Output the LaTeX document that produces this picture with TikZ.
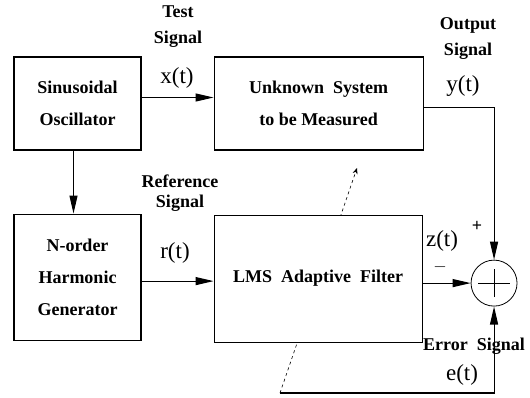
\documentclass[tikz,border=0pt]{standalone}
\usepackage{fontspec}
\setmainfont{Liberation Serif}
\usepackage{tikz}
\usetikzlibrary{arrows.meta,backgrounds,positioning}
\newcommand{\blockfont}{\fontsize{18}{32}\selectfont\bfseries}
\newcommand{\sigfont}{\fontsize{23}{23}\selectfont}

\begin{document}
\begin{tikzpicture}[
    x=1pt,y=-1pt,
    flow/.style={-{Triangle[length=18pt,width=8pt]},line width=1.1pt},
    block/.style={draw,line width=1.1pt,fill=white,align=center,
      font=\blockfont},
    tag/.style={font=\blockfont,align=center},
    sig/.style={font=\sigfont}
  ]
    \useasboundingbox (0,0) rectangle (530,397);

    % Signal source and the plant under test.
    \node[block,minimum width=127pt,minimum height=93pt] (osc) at (77.5,103.5)
      {Sinusoidal\\Oscillator};
    \node[block,minimum width=209pt,minimum height=93pt,right=72pt of osc] (plant)
      {Unknown\ \ System\\to\ be Measured};

    % Reference path and adaptive model.
    \node[block,minimum width=127pt,minimum height=126pt,below=63pt of osc] (harm)
      {N-order\\Harmonic\\Generator};
    \node[block,minimum width=208pt,minimum height=127pt,right=72pt of harm,
      yshift=-1.5pt] (lms)
      {LMS\ \ Adaptive\ \ Filter};
    \node[draw,circle,line width=0.8pt,minimum size=46pt,right=48pt of lms,
      yshift=-4.5pt] (sum) {};
    \draw[line width=0.8pt] ([xshift=-16pt]sum.center) -- ([xshift=16pt]sum.center);
    \draw[line width=0.8pt] ([yshift=-14pt]sum.center) -- ([yshift=14pt]sum.center);

    \draw[flow] ([yshift=6pt]osc.east) -- ([yshift=6pt]plant.west);
    \draw[flow] ([xshift=-4pt]osc.south) -- ([xshift=-4pt]harm.north);
    \draw[flow] ([yshift=-4pt]harm.east) -- ([yshift=-4pt]harm.east -| lms.west);
    \draw[flow] ([yshift=-4pt]plant.east) -| (sum.north);
    \draw[flow] (lms.east |- sum.west) -- (sum.west);

    % Error feedback and adaptation.
    \coordinate (tail) at (280,393);
    \coordinate (tip) at (357,168);
    \draw[flow] (tail) -| (sum.south);
    \begin{scope}[on background layer]
      \draw[dashed,line width=0.6pt,-{Stealth[length=6pt,width=5pt]}] (tail) -- (tip);
    \end{scope}

    \node[tag] (testlbl) at (178,27) {Test\\[-6pt]Signal};
    \node[sig] (xlbl) at (177,78) {x(t)};
    \node[tag] (outlbl) at (468,39) {Output\\[-6pt]Signal};
    \node[sig] (ylbl) at (463,86) {y(t)};
    \node[tag] (reflbl) at (180,193) {Reference\\[-12pt]Signal};
    \node[sig] (rlbl) at (175,253) {r(t)};
    \node[sig] (zlbl) at (442,241) {z(t)};
    \node[tag] (plus) at (477,226) {+};
    \node[tag] (minus) at (440,267) {$-$};
    \node[tag] (errlbl) at (474,346) {Error\ \ Signal};
    \node[sig] (elbl) at (462,375) {e(t)};
  \end{tikzpicture}
\end{document}
